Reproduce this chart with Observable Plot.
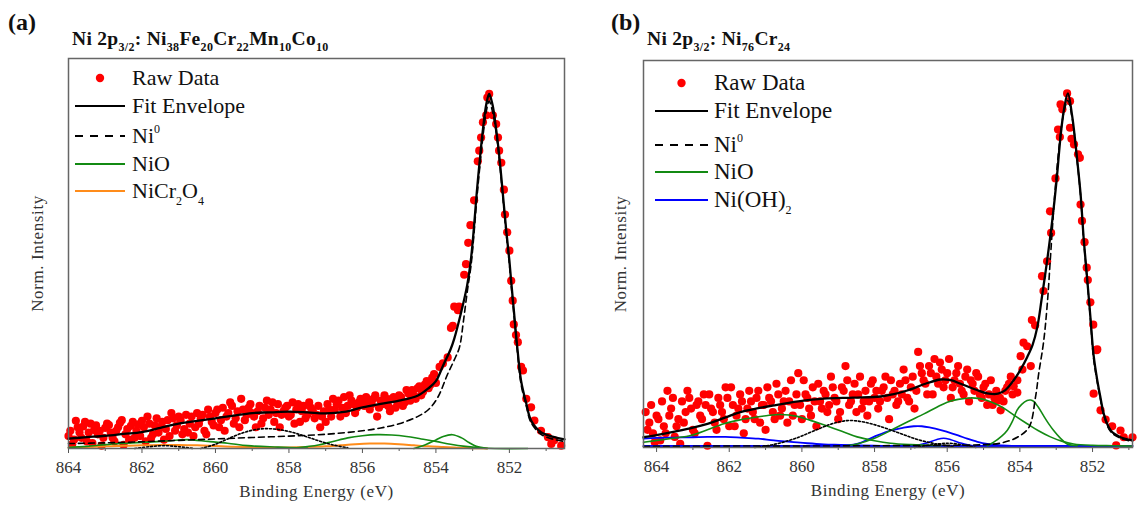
<!DOCTYPE html>
<html><head><meta charset="utf-8">
<script src="https://cdn.jsdelivr.net/npm/d3@7"></script>
<script src="https://cdn.jsdelivr.net/npm/@observablehq/plot@0.6"></script>
<style>
body{margin:0;width:1137px;height:508px;position:relative;background:#fff;overflow:hidden;font-family:"Liberation Serif","Times New Roman",serif}
.panel{position:absolute;top:0}
#overlay{position:absolute;left:0;top:0;pointer-events:none}
svg, svg text, svg tspan{font-family:"Liberation Serif","Times New Roman",serif !important}
g[aria-label="x-axis label"] text, g[aria-label="y-axis label"] text{letter-spacing:0.6px}
.ttl{letter-spacing:0.3px}
</style></head>
<body>
<div id="pa" class="panel" style="left:0"></div>
<div id="pb" class="panel" style="left:575px"></div>
<svg id="overlay" width="1137" height="508"></svg>
<script>
// ---------- axis ticks ----------
const majorTicks = [864, 862, 860, 858, 856, 854, 852];
const minorTicks = [863, 861, 859, 857, 855, 853, 851];
const xDomainA = [864, 850.5];
const xDomainB = [864.36, 850.9];
const yDomainA = [0, 1.1];
const yDomainB = [0, 1.093];

// ---------- panel (a): Ni38Fe20Cr22Mn10Co10 ----------
const rawA = [
[864.0,0.035],[863.9,0.012],[863.8,0.078],[863.7,0.045],[863.6,0.062],[863.5,0.020],[863.4,0.070],[863.3,0.052],[863.2,0.040],[863.1,0.008],
[863.0,0.058],[862.9,0.066],[862.8,0.030],[862.7,0.050],[862.6,0.072],[862.5,0.010],[862.4,0.055],[862.3,0.064],[862.2,0.030],[862.1,0.068],
[862.0,0.078],[861.9,0.020],[861.8,0.070],[861.7,0.040],[861.6,0.085],[861.5,0.060],[861.4,0.025],[861.3,0.080],[861.2,0.100],[861.1,0.050],
[861.0,0.090],[860.9,0.040],[860.8,0.095],[860.7,0.070],[860.6,0.035],[860.5,0.100],[860.4,0.085],[860.3,0.050],[860.2,0.110],[860.1,0.075],
[860.0,0.100],[859.9,0.060],[859.8,0.115],[859.7,0.090],[859.6,0.130],[859.5,0.070],[859.4,0.105],[859.3,0.140],[859.2,0.080],[859.1,0.115],
[859.0,0.100],[858.9,0.060],[858.8,0.120],[858.7,0.085],[858.6,0.135],[858.5,0.110],[858.4,0.075],[858.3,0.125],[858.2,0.095],[858.1,0.115],
[858.0,0.090],[857.9,0.130],[857.8,0.110],[857.7,0.075],[857.6,0.120],[857.5,0.095],[857.4,0.115],[857.3,0.085],[857.2,0.120],[857.1,0.090],
[857.0,0.075],[856.9,0.110],[856.8,0.140],[856.7,0.125],[856.6,0.090],[856.5,0.145],[856.4,0.120],[856.3,0.135],[856.2,0.100],[856.1,0.130],
[856.0,0.125],[855.9,0.145],[855.8,0.110],[855.7,0.140],[855.6,0.090],[855.5,0.135],[855.4,0.150],[855.3,0.120],[855.2,0.140],[855.1,0.115],
[855.0,0.150],[854.9,0.120],[854.8,0.165],[854.7,0.135],[854.6,0.150],[854.5,0.170],[854.4,0.150],[854.3,0.180],[854.2,0.170],[854.1,0.200],
[854.0,0.185],[853.9,0.23],[853.81,0.24],[853.68,0.257],[853.59,0.34],[853.54,0.346],[853.5,0.40],[853.4,0.39],[853.37,0.40],[853.23,0.49],
[853.18,0.52],[853.12,0.58],[853.06,0.63],[852.96,0.70],[852.86,0.81],[852.82,0.84],[852.77,0.877],[852.72,0.92],[852.63,0.94],[852.6,0.99],
[852.55,1.0],[852.45,0.94],[852.36,0.915],[852.31,0.877],[852.28,0.84],[852.22,0.806],[852.15,0.73],[852.12,0.66],[852.06,0.61],[852.0,0.558],
[851.95,0.473],[851.91,0.417],[851.88,0.35],[851.82,0.32],[851.77,0.30],[851.68,0.23],[851.63,0.22],[851.54,0.14],[851.41,0.116],[851.32,0.079],
[851.14,0.05],[850.95,0.032],[850.86,0.013],[850.78,0.023],[850.59,0.008]
];
const rawA2 = [
[863.95,0.05],[863.85,0.025],[863.75,0.06],[863.65,0.03],[863.55,0.075],[863.45,0.045],[863.35,0.015],[863.25,0.065],[863.15,0.05],[863.05,0.03],
[862.95,0.07],[862.85,0.045],[862.75,0.02],[862.65,0.06],[862.55,0.08],[862.45,0.04],[862.35,0.025],[862.25,0.075],[862.15,0.05],[862.05,0.035],
[861.95,0.06],[861.85,0.09],[861.75,0.03],[861.65,0.065],[861.55,0.045],[861.45,0.075],[861.35,0.055],[861.25,0.035],[861.15,0.085],[861.05,0.065],
[860.95,0.08],[860.85,0.055],[860.75,0.045],[860.65,0.09],[860.55,0.06],[860.45,0.07],[860.35,0.095],[860.25,0.04],[860.15,0.09],[860.05,0.065],
[859.95,0.11],[859.85,0.08],[859.75,0.05],[859.65,0.10],[859.55,0.12],[859.45,0.085],[859.35,0.06],[859.25,0.11],[859.15,0.095],[859.05,0.125],
[858.95,0.09],[858.85,0.105],[858.75,0.07],[858.65,0.115],[858.55,0.095],[858.45,0.13],[858.35,0.10],[858.25,0.06],[858.15,0.105],[858.05,0.12],
[857.95,0.095],[857.85,0.07],[857.75,0.125],[857.65,0.105],[857.55,0.085],[857.45,0.13],[857.35,0.105],[857.25,0.095],[857.15,0.06],[857.05,0.105],
[856.95,0.125],[856.85,0.09],[856.75,0.11],[856.65,0.135],[856.55,0.115],[856.45,0.10],[856.35,0.15],[856.25,0.125],[856.15,0.115],[856.05,0.14],
[855.95,0.12],[855.85,0.135],[855.75,0.125],[855.65,0.15],[855.55,0.115],[855.45,0.125],[855.35,0.14],[855.25,0.105],[855.15,0.145],[855.05,0.13],
[854.95,0.145],[854.85,0.13],[854.75,0.155],[854.65,0.165],[854.55,0.14],[854.45,0.175],[854.35,0.16],[854.25,0.19],[854.15,0.18],[854.05,0.21]
];
const envA = [
[864,0.028],[863.5,0.032],[863,0.036],[862.5,0.041],[862,0.046],[861.5,0.058],[861,0.070],[860.5,0.078],[860,0.085],[859.5,0.093],
[859,0.100],[858.5,0.102],[858,0.104],[857.5,0.102],[857,0.099],[856.5,0.103],[856,0.116],[855.5,0.126],[855,0.135],[854.5,0.149],
[854.2,0.170],[854,0.190],[853.8,0.235],[853.6,0.28],[853.5,0.31],[853.3,0.39],[853.15,0.46],[853.04,0.54],[852.96,0.63],[852.89,0.72],
[852.8,0.82],[852.72,0.90],[852.63,0.97],[852.55,1.0],[852.46,0.97],[852.36,0.90],[852.27,0.82],[852.18,0.72],[852.09,0.62],[852.0,0.53],
[851.95,0.47],[851.87,0.38],[851.78,0.28],[851.68,0.19],[851.54,0.127],[851.41,0.079],[851.14,0.046],[850.8,0.033],[850.5,0.026]
];
const ni0A = [
[864,0.014],[863,0.016],[862,0.019],[861,0.023],[860,0.027],[859,0.031],[858,0.035],[857,0.040],[856,0.050],[855.5,0.058],
[855,0.07],[854.5,0.09],[854.2,0.11],[853.95,0.144],[853.68,0.21],[853.5,0.25],[853.36,0.285],[853.25,0.36],[853.15,0.44],[853.04,0.52],
[852.96,0.61],[852.89,0.70],[852.8,0.80],[852.72,0.88],[852.63,0.95],[852.55,0.98],[852.46,0.95],[852.36,0.89],[852.27,0.81],[852.18,0.71],
[852.09,0.61],[852.0,0.52],[851.95,0.46],[851.87,0.37],[851.78,0.27],[851.68,0.18],[851.54,0.12],[851.41,0.073],[851.14,0.04],[850.8,0.026],[850.5,0.02]
];
const ni0SatA1 = [[860.4,0.0],[860,0.012],[859.6,0.03],[859.2,0.046],[858.8,0.055],[858.4,0.055],[858,0.048],[857.6,0.036],[857.2,0.022],[856.8,0.01],[856.4,0.002]];
const ni0SatA2 = [[862.2,0.0],[861.8,0.005],[861.4,0.008],[861.0,0.005],[860.6,0.0]];
const nioA1 = [[864,0.003],[863.5,0.006],[863,0.011],[862.4,0.015],[861.9,0.018],[861.5,0.02],[861,0.024],[860.76,0.025],[860.2,0.02],[859.67,0.015],[859.12,0.008],[858.3,0.004],[857.5,0.001]];
const nioA2 = [[857.8,0.002],[857.2,0.01],[856.8,0.02],[856.4,0.03],[856,0.036],[855.6,0.039],[855.2,0.038],[854.8,0.034],[854.4,0.027],[854,0.02],[853.6,0.012],[853.2,0.006],[852.8,0.002],[852.4,0.0],[851.5,0.0]];
const nioA3 = [[854.6,0.0],[854.3,0.01],[854.0,0.024],[853.8,0.034],[853.55,0.039],[853.3,0.03],[853.1,0.017],[852.9,0.006],[852.6,0.0]];
const nicrA = [
[864,0.002],[863.5,0.004],[863,0.006],[862.5,0.008],[862,0.009],[861.5,0.01],[861,0.01],[860.5,0.009],[860,0.007],[859.5,0.005],
[859,0.004],[858.5,0.003],[858,0.003],[857.5,0.004],[857,0.006],[856.6,0.009],[856.2,0.012],[855.8,0.014],[855.4,0.014],[855,0.012],
[854.6,0.009],[854.2,0.006],[853.8,0.004],[853.4,0.002],[853,0.001],[852.6,0.0]
];

// ---------- panel (b): Ni76Cr24 ----------
const rawB = [
[864.3,0.10],[864.2,0.07],[864.1,0.04],[864.0,0.09],[863.9,0.02],[863.8,0.06],[863.7,0.16],[863.6,0.11],[863.5,0.03],[863.4,0.08],
[863.3,0.13],[863.2,0.10],[863.1,0.14],[863.0,0.05],[862.9,0.12],[862.8,0.09],[862.7,0.15],[862.6,0.005],[862.5,0.11],[862.4,0.07],
[862.3,0.14],[862.2,0.10],[862.1,0.17],[862.0,0.06],[861.9,0.12],[861.8,0.09],[861.7,0.15],[861.6,0.04],[861.5,0.11],[861.4,0.13],
[861.3,0.08],[861.2,0.16],[861.1,0.12],[861.0,0.05],[860.9,0.14],[860.8,0.10],[860.7,0.18],[860.6,0.09],[860.5,0.13],[860.4,0.07],
[860.3,0.19],[860.2,0.12],[860.1,0.21],[860.0,0.08],[859.9,0.15],[859.8,0.11],[859.7,0.17],[859.6,0.06],[859.5,0.13],[859.4,0.16],
[859.3,0.10],[859.2,0.20],[859.1,0.14],[859.0,0.08],[858.9,0.17],[858.8,0.23],[858.7,0.12],[858.6,0.15],[858.5,0.10],[858.4,0.20],
[858.3,0.13],[858.2,0.09],[858.1,0.18],[858.0,0.14],[857.9,0.11],[857.8,0.16],[857.7,0.20],[857.6,0.08],[857.5,0.15],[857.4,0.12],
[857.3,0.18],[857.2,0.22],[857.1,0.14],[857.0,0.17],[856.9,0.11],[856.8,0.27],[856.7,0.21],[856.6,0.18],[856.5,0.23],[856.4,0.15],
[856.3,0.20],[856.2,0.24],[856.1,0.17],[856.0,0.21],[855.9,0.14],[855.8,0.19],[855.7,0.23],[855.6,0.16],[855.5,0.20],[855.4,0.13],
[855.3,0.18],[855.2,0.21],[855.1,0.15],[855.0,0.17],[854.9,0.12],[854.8,0.19],[854.7,0.14],[854.6,0.133],[854.53,0.105],[854.4,0.16],
[854.3,0.18],[854.2,0.15],[854.17,0.173],[854.07,0.19],[854.07,0.155],[853.98,0.258],[853.9,0.296],[853.93,0.22],[853.8,0.286],[853.7,0.23],
[853.67,0.36],[853.58,0.345],[853.39,0.484],[853.35,0.442],[853.25,0.526],[853.17,0.667],[853.14,0.606],[853.02,0.76],[852.95,0.898],[852.9,0.877],
[852.88,0.969],[852.83,0.955],[852.7,1.0],[852.62,0.978],[852.62,0.903],[852.58,0.872],[852.51,0.856],[852.4,0.828],[852.35,0.818],[852.33,0.686],
[852.29,0.64],[852.22,0.58],[852.16,0.508],[852.13,0.473],[852.06,0.41],[851.98,0.347],[851.89,0.275],[851.87,0.277],[851.97,0.152],[851.78,0.105],
[851.64,0.079],[851.46,0.06],[851.35,0.006],[851.23,0.048],[851.14,0.029],[850.9,0.029]
];
const rawB2 = [
[864.25,0.05],[864.15,0.12],[864.05,0.015],[863.95,0.08],[863.85,0.13],[863.75,0.04],[863.65,0.09],[863.55,0.14],[863.45,0.06],[863.35,0.01],
[863.25,0.07],[863.15,0.16],[863.05,0.11],[862.95,0.04],[862.85,0.13],[862.75,0.08],[862.65,0.12],[862.55,0.15],[862.45,0.10],[862.35,0.05],
[862.25,0.12],[862.15,0.08],[862.05,0.14],[861.95,0.17],[861.85,0.06],[861.75,0.11],[861.65,0.13],[861.55,0.08],[861.45,0.16],[861.35,0.10],
[861.25,0.14],[861.15,0.07],[861.05,0.12],[860.95,0.17],[860.85,0.13],[860.75,0.08],[860.65,0.15],[860.55,0.11],[860.45,0.16],[860.35,0.13],
[860.25,0.09],[860.15,0.15],[860.05,0.12],[859.95,0.19],[859.85,0.14],[859.75,0.09],[859.65,0.13],[859.55,0.18],[859.45,0.11],[859.35,0.15],
[859.25,0.12],[859.15,0.17],[859.05,0.13],[858.95,0.10],[858.85,0.16],[858.75,0.19],[858.65,0.13],[858.55,0.18],[858.45,0.15],[858.35,0.11],
[858.25,0.16],[858.15,0.13],[858.05,0.19],[857.95,0.16],[857.85,0.13],[857.75,0.17],[857.65,0.14],[857.55,0.19],[857.45,0.16],[857.35,0.13],
[857.25,0.15],[857.15,0.19],[857.05,0.13],[856.95,0.20],[856.85,0.16],[856.75,0.23],[856.65,0.19],[856.55,0.15],[856.45,0.21],[856.35,0.25],
[856.25,0.18],[856.15,0.22],[856.05,0.19],[855.95,0.25],[855.85,0.17],[855.75,0.21],[855.65,0.18],[855.55,0.15],[855.45,0.22],[855.35,0.19],
[855.25,0.16],[855.15,0.20],[855.05,0.14],[854.95,0.18],[854.85,0.15],[854.75,0.12],[854.65,0.16],[854.55,0.14],[854.45,0.13],[854.35,0.17],
[854.25,0.2]
];
const envB = [
[864.36,0.029],[864,0.035],[863.5,0.045],[863,0.056],[862.6,0.067],[862.1,0.085],[861.69,0.10],[861.2,0.111],[860.77,0.119],[860.1,0.13],
[859.4,0.138],[858.6,0.141],[857.83,0.144],[857.5,0.15],[857.1,0.161],[856.6,0.18],[856.18,0.192],[855.9,0.19],[855.63,0.18],[855.2,0.163],
[854.9,0.153],[854.6,0.152],[854.4,0.162],[854.17,0.19],[853.98,0.22],[853.8,0.255],[853.65,0.29],[853.52,0.34],[853.4,0.42],[853.25,0.528],
[853.11,0.64],[852.99,0.754],[852.88,0.879],[852.79,0.952],[852.68,1.0],[852.56,0.936],[852.42,0.81],[852.33,0.717],[852.24,0.585],[852.15,0.48],
[852.06,0.37],[851.97,0.26],[851.87,0.19],[851.78,0.14],[851.69,0.095],[851.5,0.048],[851.23,0.029],[850.9,0.02]
];
const ni0B = [
[864.36,0.003],[862,0.004],[860,0.004],[858,0.005],[856,0.006],[855,0.008],[854.5,0.013],[854.07,0.029],[853.75,0.057],[853.57,0.142],
[853.48,0.21],[853.35,0.296],[853.25,0.40],[853.15,0.55],[853.05,0.70],[852.95,0.82],[852.85,0.91],[852.76,0.96],[852.68,0.98],[852.56,0.93],
[852.42,0.805],[852.33,0.712],[852.24,0.58],[852.15,0.475],[852.06,0.365],[851.97,0.25],[851.87,0.185],[851.78,0.135],[851.69,0.09],[851.5,0.045],
[851.23,0.026],[850.9,0.017]
];
const ni0SatB1 = [[861.3,0.0],[860.8,0.008],[860.2,0.025],[859.6,0.05],[859.2,0.066],[858.75,0.076],[858.3,0.072],[857.8,0.058],[857.3,0.04],[856.8,0.022],[856.3,0.01],[855.8,0.002]];
const ni0SatB2 = [[856.9,0.0],[856.4,0.008],[856.0,0.012],[855.6,0.008],[855.2,0.0]];
const nioB1 = [[864.36,0.015],[863.5,0.027],[863.06,0.034],[862.6,0.05],[862.15,0.067],[861.7,0.078],[861.23,0.086],[860.9,0.091],[860.59,0.093],[860.13,0.088],[859.8,0.078],[859.4,0.064],[858.9,0.046],[858.48,0.03],[858,0.019],[857.56,0.012],[857,0.008],[856.18,0.005]];
const nioB2 = [[858.8,0.005],[858.48,0.01],[858,0.026],[857.56,0.048],[857.1,0.072],[856.64,0.095],[856.3,0.113],[856.0,0.128],[855.7,0.136],[855.36,0.14],[855.1,0.138],[854.9,0.133],[854.6,0.12],[854.35,0.105],[854.1,0.087],[853.8,0.067],[853.5,0.048],[853.16,0.03],[852.85,0.018],[852.52,0.01],[852,0.006],[851.42,0.005],[850.9,0.004]];
const nioB3 = [[854.9,0.005],[854.72,0.015],[854.5,0.032],[854.35,0.048],[854.2,0.075],[854.08,0.105],[853.95,0.122],[853.8,0.133],[853.7,0.134],[853.62,0.13],[853.5,0.115],[853.35,0.09],[853.2,0.066],[853.07,0.048],[852.9,0.028],[852.7,0.01],[852.42,0.005]];
const ohB1 = [[864.36,0.025],[864,0.027],[863.52,0.028],[863,0.029],[862.6,0.03],[862.1,0.03],[861.69,0.028],[861.2,0.025],[860.77,0.02],[860.3,0.016],[859.85,0.012],[859.4,0.009],[858.93,0.0075],[858.5,0.006],[858.02,0.005],[857.5,0.004]];
const ohB2 = [[859.2,0.003],[858.8,0.006],[858.48,0.01],[858.02,0.03],[857.56,0.048],[857.2,0.056],[856.92,0.06],[856.7,0.06],[856.46,0.056],[856.2,0.05],[856.0,0.044],[855.7,0.034],[855.45,0.025],[855.2,0.017],[854.9,0.01],[854.35,0.005],[853.8,0.004]];
const ohB3 = [[857.0,0.003],[856.6,0.012],[856.3,0.022],[856.1,0.026],[855.9,0.022],[855.6,0.012],[855.2,0.003]];
const ohBase = [[864.36,0.004],[850.9,0.004]];

// ---------- styles ----------
const RED = "#ff0000", GREEN = "#138a13", ORANGE = "#ff8c1a", BLUE = "#0000ff";
const FONT = "'Liberation Serif', 'Times New Roman', serif";
const toRows = arr => arr.map(([E, I]) => ({E, I}));

function comp(arr, stroke, width, dash) {
  return Plot.line(toRows(arr), {x: "E", y: "I", stroke, strokeWidth: width, strokeDasharray: dash, curve: "catmull-rom"});
}

function panel({xDomain, yDomain, width, ml, mr, mt, mb, raw, comps, env, ylabOffset}) {
  return Plot.plot({
    width, height: 508,
    marginLeft: ml, marginRight: mr, marginTop: mt, marginBottom: mb,
    style: {fontFamily: FONT, fontSize: "17px", color: "#333", background: "transparent", overflow: "visible"},
    x: {domain: xDomain},
    y: {domain: yDomain},
    marks: [
      Plot.axisX({ticks: majorTicks, tickSize: 5, tickPadding: 7, stroke: "#555", tickFormat: d => String(d),
                  label: "Binding Energy (eV)", labelAnchor: "center", labelOffset: 48, labelArrow: "none"}),
      Plot.axisX({ticks: minorTicks, tickSize: 3, stroke: "#555", tickFormat: () => "", label: null}),
      Plot.axisY({ticks: [], tickSize: 0, label: "Norm. Intensity", labelAnchor: "center", labelOffset: ylabOffset, labelArrow: "none"}),
      Plot.dot(toRows(raw), {x: "E", y: "I", r: 4.1, fill: RED, stroke: "none"}),
      ...comps,
      Plot.line(toRows(env), {x: "E", y: "I", stroke: "#000", strokeWidth: 2.3, curve: "catmull-rom"}),
      Plot.frame({stroke: "#666", strokeWidth: 1.5})
    ]
  });
}

const plotA = panel({
  xDomain: xDomainA, yDomain: yDomainA, width: 570, ml: 68, mr: 6, mt: 58, mb: 60, raw: rawA.concat(rawA2), env: envA, ylabOffset: 38,
  comps: [
    comp(nicrA, ORANGE, 2, null),
    comp(nioA1, GREEN, 1.6, null), comp(nioA2, GREEN, 1.6, null), comp(nioA3, GREEN, 1.6, null),
    comp(ni0SatA1, "#000", 1.6, "2,2"), comp(ni0SatA2, "#000", 1.6, "2,2"),
    comp(ni0A, "#000", 1.6, "6,4")
  ]
});
const plotB = panel({
  xDomain: xDomainB, yDomain: yDomainB, width: 562, ml: 68, mr: 5, mt: 60, mb: 61, raw: rawB.concat(rawB2), env: envB, ylabOffset: 30,
  comps: [
    comp(ohBase, BLUE, 2, null), comp(ohB1, BLUE, 1.8, null), comp(ohB2, BLUE, 1.8, null), comp(ohB3, BLUE, 1.6, null),
    comp(nioB1, GREEN, 1.6, null), comp(nioB2, GREEN, 1.6, null), comp(nioB3, GREEN, 1.6, null),
    comp(ni0SatB1, "#000", 1.6, "2,2"), comp(ni0SatB2, "#000", 1.6, "2,2"),
    comp(ni0B, "#000", 1.6, "6,4")
  ]
});
document.getElementById("pa").appendChild(plotA);
document.getElementById("pb").appendChild(plotB);

// ---------- titles & legends (overlay) ----------
const ov = d3.select("#overlay").attr("font-family", FONT);
function rich(x, y, parts, size, weight, subSize, cls) {
  const t = ov.append("text").attr("x", x).attr("y", y).attr("font-size", size).attr("font-weight", weight).attr("fill", "#111");
  if (cls) t.attr("class", cls);
  let pending = 0;
  for (const p of parts) {
    if (typeof p === "string") {
      t.append("tspan").attr("dy", -pending).text(p);
      pending = 0;
    } else {
      const off = p.sup ? -size * 0.45 : size * 0.32;
      t.append("tspan").attr("font-size", subSize).attr("dy", off - pending).text(p.t);
      pending = off;
    }
  }
  return t;
}
rich(8, 30, ["(a)"], 24, "bold");
rich(611, 30, ["(b)"], 24, "bold");
rich(72, 45, ["Ni 2p", {t: "3/2"}, ": Ni", {t: "38"}, "Fe", {t: "20"}, "Cr", {t: "22"}, "Mn", {t: "10"}, "Co", {t: "10"}], 19.5, "bold", 12, "ttl");
rich(647, 45, ["Ni 2p", {t: "3/2"}, ": Ni", {t: "76"}, "Cr", {t: "24"}], 19.5, "bold", 12, "ttl");

function legend(items, lineX0, lineX1, textX, size) {
  for (const it of items) {
    if (it.dot) ov.append("circle").attr("cx", (lineX0 + lineX1) / 2).attr("cy", it.y).attr("r", 4.2).attr("fill", RED);
    else ov.append("line").attr("x1", lineX0).attr("x2", lineX1).attr("y1", it.y).attr("y2", it.y)
           .attr("stroke", it.color).attr("stroke-width", it.w || 2).attr("stroke-dasharray", it.dash || null);
    rich(textX, it.y + 7, it.parts, size, "normal", 12);
  }
}
legend([
  {dot: true, y: 78, parts: ["Raw Data"]},
  {y: 106, color: "#000", parts: ["Fit Envelope"]},
  {y: 136, color: "#000", dash: "8,7", parts: ["Ni", {t: "0", sup: true}]},
  {y: 164, color: GREEN, parts: ["NiO"]},
  {y: 191, color: ORANGE, parts: ["NiCr", {t: "2"}, "O", {t: "4"}]}
], 75, 125, 132, 22);
legend([
  {dot: true, y: 83, parts: ["Raw Data"]},
  {y: 111, color: "#000", parts: ["Fit Envelope"]},
  {y: 145, color: "#000", dash: "8,7", parts: ["Ni", {t: "0", sup: true}]},
  {y: 172, color: GREEN, parts: ["NiO"]},
  {y: 200, color: BLUE, parts: ["Ni(OH)", {t: "2"}]}
], 655, 708, 714, 23);
</script>
</body></html>
